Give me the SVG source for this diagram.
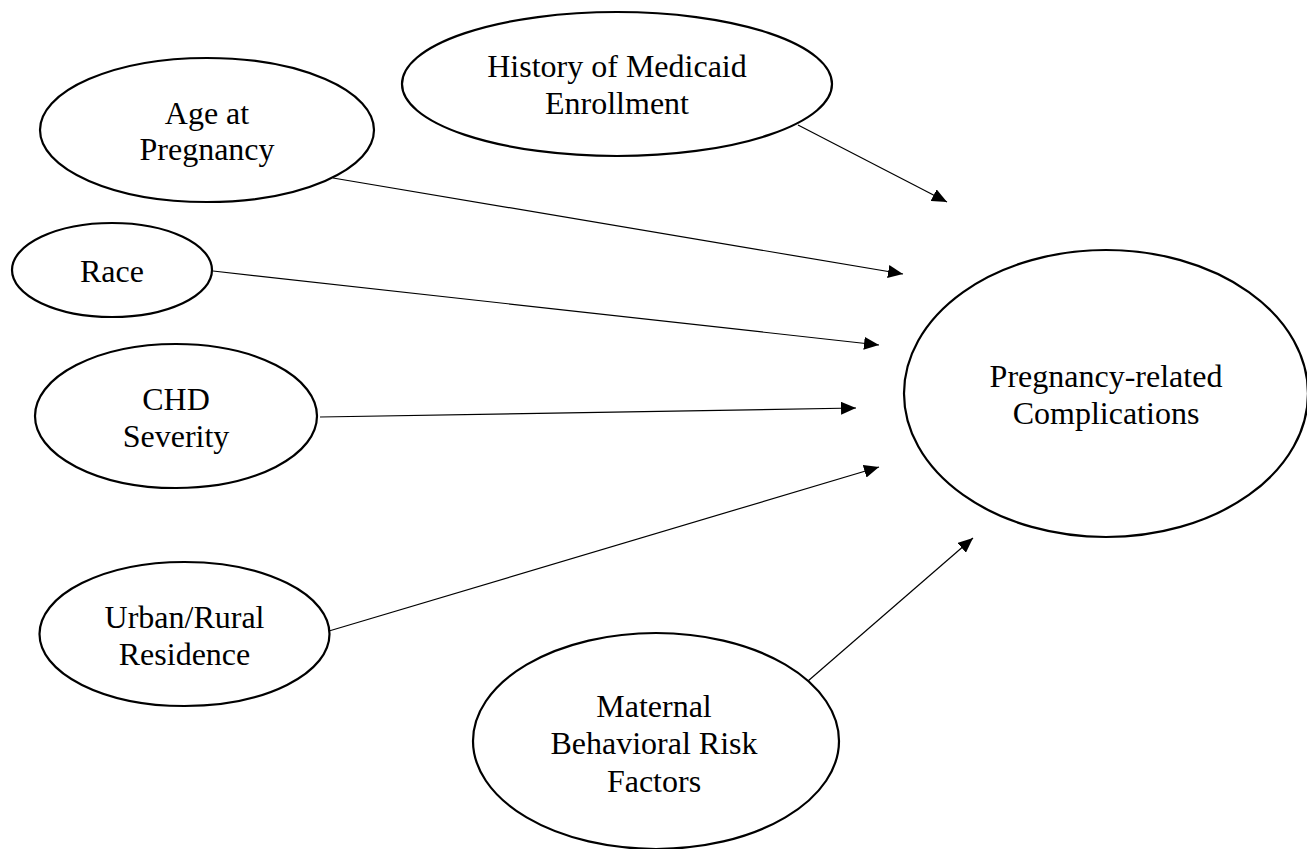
<svg xmlns="http://www.w3.org/2000/svg" width="1307" height="849" viewBox="0 0 1307 849">
<style>
.node ellipse{fill:#fff;stroke:#000;stroke-width:2.2}
.node text{font-family:"Liberation Serif","Times New Roman",serif;font-size:32px;fill:#000;text-anchor:middle}
.edge{stroke:#000;stroke-width:1.2;fill:none;marker-end:url(#arrow)}
</style>
<defs>
<marker id="arrow" markerUnits="userSpaceOnUse" markerWidth="15" markerHeight="13" refX="15" refY="6.5" orient="auto">
<path d="M0,0 L15,6.5 L0,13 z" fill="#000"/>
</marker>
</defs>
<rect x="0" y="0" width="1307" height="849" fill="#fff"/>
<g id="connectors">
<line class="edge" x1="798" y1="125" x2="947" y2="202"/>
<line class="edge" x1="333" y1="178" x2="903" y2="274"/>
<line class="edge" x1="213" y1="271" x2="879" y2="345"/>
<line class="edge" x1="320" y1="417" x2="856" y2="408"/>
<line class="edge" x1="329" y1="631" x2="879" y2="467"/>
<line class="edge" x1="808" y1="681" x2="973" y2="538"/>
</g>
<g id="history" class="node">
<ellipse cx="617" cy="84" rx="215" ry="72"/>
<text x="617" y="77">History of Medicaid</text>
<text x="617" y="114">Enrollment</text>
</g>
<g id="age" class="node">
<ellipse cx="207" cy="130" rx="167" ry="72"/>
<text x="207" y="124">Age at</text>
<text x="207" y="160">Pregnancy</text>
</g>
<g id="race" class="node">
<ellipse cx="112" cy="270" rx="100" ry="47"/>
<text x="112" y="282">Race</text>
</g>
<g id="chd" class="node">
<ellipse cx="176" cy="416" rx="141" ry="72"/>
<text x="176" y="410">CHD</text>
<text x="176" y="447">Severity</text>
</g>
<g id="urban" class="node">
<ellipse cx="184.5" cy="634" rx="145" ry="72"/>
<text x="184.5" y="628">Urban/Rural</text>
<text x="184.5" y="665">Residence</text>
</g>
<g id="maternal" class="node">
<ellipse cx="656" cy="741" rx="183" ry="108"/>
<text x="654" y="717">Maternal</text>
<text x="654" y="754">Behavioral Risk</text>
<text x="654" y="792">Factors</text>
</g>
<g id="outcome" class="node">
<ellipse cx="1106" cy="393.5" rx="202" ry="143.5"/>
<text x="1106" y="387">Pregnancy-related</text>
<text x="1106" y="424">Complications</text>
</g>
</svg>
